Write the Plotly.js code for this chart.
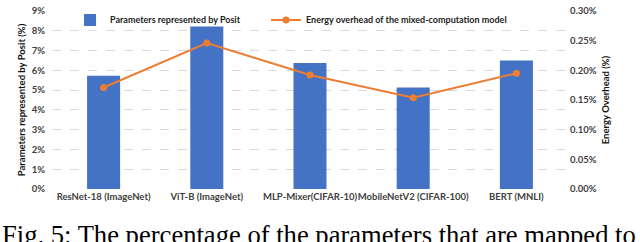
<!DOCTYPE html>
<html>
<head>
<meta charset="utf-8">
<script src="https://cdn.plot.ly/plotly-3.0.1.min.js"></script>
<style>
html,body{margin:0;padding:0;background:#fff;}
#chart{width:640px;height:242px;}
</style>
</head>
<body>
<div id="chart"></div>
<script>
const categories = ["ResNet-18 (ImageNet)", "ViT-B (ImageNet)", "MLP-Mixer(CIFAR-10)", "MobileNetV2 (CIFAR-100)", "BERT (MNLI)"];
const positParams = [5.72, 8.22, 6.37, 5.13, 6.50];
const energyOverhead = [0.171, 0.246, 0.192, 0.154, 0.195];
const leftTicks = [0, 1, 2, 3, 4, 5, 6, 7, 8, 9];
const rightTicks = [0, 0.05, 0.10, 0.15, 0.20, 0.25, 0.30];
const barName = "Parameters represented by Posit";
const lineName = "Energy overhead of the mixed-computation model";
const leftTitle = "Parameters represented by Posit (%)";
const rightTitle = "Energy Overhead (%)";
const caption = "Fig. 5: The percentage of the parameters that are mapped to";

const font = "Lato, 'Open Sans', sans-serif";
const tickFont = {family: font, size: 9.5, color: "#404040", weight: "bold"};
const legendFont = {family: font, size: 9, color: "#222", weight: "bold"};

const traces = [
  {
    type: "bar", x: categories, y: positParams, name: barName,
    marker: {color: "#4472C4"}, yaxis: "y", legend: "legend"
  },
  {
    type: "scatter", mode: "lines+markers", x: categories, y: energyOverhead, name: lineName,
    line: {color: "#ED7D31", width: 2}, marker: {color: "#ED7D31", size: 7}, yaxis: "y2",
    legend: "legend2"
  }
];

const layout = {
  width: 640, height: 242,
  margin: {l: 52, r: 72, t: 5, b: 53},
  paper_bgcolor: "#fff", plot_bgcolor: "#fff",
  bargap: 0.68,
  showlegend: true,
  legend: {
    orientation: "h", x: 0.035, xanchor: "left", y: 0.95, yanchor: "middle",
    font: legendFont, bgcolor: "rgba(255,255,255,0)", itemwidth: 30
  },
  legend2: {
    orientation: "h", x: 0.4147, xanchor: "left", y: 0.95, yanchor: "middle",
    font: legendFont, bgcolor: "rgba(255,255,255,0)", itemwidth: 30
  },
  xaxis: {
    tickfont: tickFont, showgrid: false, showline: false, ticks: "", tickangle: 0,
    automargin: false
  },
  yaxis: {
    range: [0, 9], tickvals: leftTicks, ticktext: leftTicks.map(v => v + "%"),
    tickfont: tickFont, showgrid: true, gridcolor: "#D9D9D9", griddash: "dash", gridwidth: 1,
    zeroline: false, showline: false, ticks: "", automargin: false, ticklabelstandoff: 6,
    title: {text: leftTitle, font: {family: font, size: 9.5, color: "#111", weight: "bold"}, standoff: 4}
  },
  yaxis2: {
    range: [0, 0.30], overlaying: "y", side: "right",
    tickvals: rightTicks, ticktext: rightTicks.map(v => v.toFixed(2) + "%"),
    tickfont: tickFont, showgrid: false, zeroline: false, showline: false, ticks: "",
    automargin: false, ticklabelstandoff: 1,
    title: {text: rightTitle, font: {family: font, size: 9.5, color: "#111", weight: "bold"}, standoff: 6}
  },
  annotations: [
    {
      text: caption, xref: "paper", yref: "paper",
      x: -52/516, xanchor: "left", y: -(219-189)/184, yanchor: "top",
      showarrow: false, align: "left",
      font: {family: "'Liberation Serif', 'Times New Roman', serif", size: 26.6, color: "#000"}
    }
  ]
};

Plotly.newPlot("chart", traces, layout, {displayModeBar: false, staticPlot: true});
</script>
</body>
</html>
